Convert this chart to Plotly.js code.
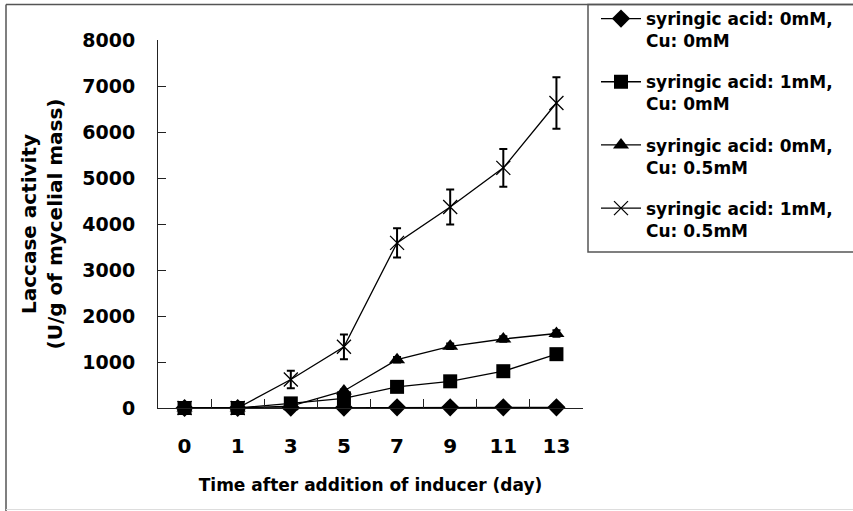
<!DOCTYPE html>
<html>
<head>
<meta charset="utf-8">
<script src="https://cdn.plot.ly/plotly-3.0.1.min.js"></script>
<style>html,body{margin:0;padding:0;background:#fff;}#chart{width:853px;height:511px;}</style>
</head>
<body>
<div id="chart"></div>
<script>
// Data
const days = ['0', '1', '3', '5', '7', '9', '11', '13'];
const seriesNames = [
  'syringic acid: 0mM,<br>Cu: 0mM',
  'syringic acid: 1mM,<br>Cu: 0mM',
  'syringic acid: 0mM,<br>Cu: 0.5mM',
  'syringic acid: 1mM,<br>Cu: 0.5mM'
];
const sa0cu0 = [0, 0, 10, 10, 15, 15, 15, 15];
const sa1cu0 = [0, 0, 100, 210, 460, 580, 800, 1170];
const sa0cu05 = [0, 0, 40, 370, 1050, 1340, 1500, 1620];
const sa0cu05Err = [0, 0, 0, 30, 60, 60, 60, 70];
const sa1cu05 = [0, 0, 620, 1330, 3590, 4370, 5220, 6630];
const sa1cu05Err = [0, 0, 190, 270, 320, 380, 410, 560];

const W = 853, H = 511;
const px2x = p => (p - 158) / 425;
const px2y = p => (408 - p) / 368;

const base = {type: 'scatter', mode: 'lines+markers', x: days, cliponaxis: false, line: {color: '#000', width: 1.3}};
const traces = [
  Object.assign({}, base, {name: seriesNames[3], y: sa1cu05, legendrank: 4, legendgroup: 'd',
    marker: {symbol: 'x-thin', size: 14, color: '#000', line: {color: '#000', width: 1.3}},
    error_y: {type: 'data', array: sa1cu05Err, visible: true, color: '#000', thickness: 2, width: 4}}),
  Object.assign({}, base, {name: seriesNames[2], y: sa0cu05, legendrank: 3, legendgroup: 'c',
    marker: {symbol: 'triangle-up', size: 14, color: '#000'},
    error_y: {type: 'data', array: sa0cu05Err, visible: true, color: '#000', thickness: 2, width: 4}}),
  Object.assign({}, base, {name: seriesNames[0], y: sa0cu0, legendrank: 1, legendgroup: 'a',
    marker: {symbol: 'diamond', size: 14, color: '#000'}}),
  Object.assign({}, base, {name: seriesNames[1], y: sa1cu0, legendrank: 2, legendgroup: 'b',
    marker: {symbol: 'square', size: 14, color: '#000'}})
];

const tickFont = {family: 'DejaVu Sans', size: 19, color: '#000', weight: 'bold'};
const layout = {
  width: W, height: H,
  margin: {l: 158, r: 270, t: 40, b: 103},
  paper_bgcolor: '#fff', plot_bgcolor: '#fff',
  showlegend: true,
  legend: {
    xref: 'container', yref: 'container',
    x: 596 / W, y: 1 - 1 / H, xanchor: 'left', yanchor: 'top',
    bgcolor: 'rgba(0,0,0,0)', borderwidth: 0,
    font: {family: 'DejaVu Sans', size: 17, color: '#000', weight: 'bold'},
    valign: 'top', tracegroupgap: 16, itemwidth: 40, traceorder: 'grouped'
  },
  xaxis: {
    type: 'category', categoryorder: 'array', categoryarray: days,
    range: [-0.5, 7.5], showgrid: false, zeroline: false,
    showline: true, linecolor: '#222', linewidth: 1,
    ticks: 'inside', tickson: 'boundaries', ticklen: 9, tickcolor: '#222',
    tickfont: {family: 'DejaVu Sans', size: 20, color: '#000', weight: 'bold'},
    ticklabelstandoff: 20,
    title: {text: 'Time after addition of inducer (day)', standoff: 22,
      font: {family: 'DejaVu Sans', size: 17, color: '#000', weight: 'bold'}},
    automargin: false, fixedrange: true
  },
  yaxis: {
    range: [0, 8000], dtick: 1000, showgrid: false, zeroline: false,
    showline: true, linecolor: '#222', linewidth: 1,
    ticks: 'inside', ticklen: 8, tickcolor: '#222',
    tickfont: tickFont, ticklabelstandoff: 18,
    title: {text: 'Laccase activity<br>(U/g of mycelial mass)', standoff: 14,
      font: {family: 'DejaVu Sans', size: 20, color: '#000', weight: 'bold'}},
    automargin: false, fixedrange: true
  },
  shapes: [
    {type: 'line', xref: 'paper', yref: 'paper', x0: px2x(6), x1: px2x(860), y0: px2y(4.5), y1: px2y(4.5), line: {color: '#555', width: 1.5}},
    {type: 'line', xref: 'paper', yref: 'paper', x0: px2x(6), x1: px2x(6), y0: px2y(4.5), y1: px2y(515), line: {color: '#555', width: 1.5}},
    {type: 'line', xref: 'paper', yref: 'paper', x0: px2x(6), x1: px2x(860), y0: px2y(509.5), y1: px2y(509.5), line: {color: '#ddd', width: 1}},
    {type: 'rect', xref: 'paper', yref: 'paper', x0: px2x(588), x1: px2x(870), y0: px2y(4.5), y1: px2y(252), line: {color: '#555', width: 1.5}, fillcolor: 'rgba(0,0,0,0)'}
  ]
};

Plotly.newPlot('chart', traces, layout, {staticPlot: true, displayModeBar: false});
</script>
</body>
</html>
